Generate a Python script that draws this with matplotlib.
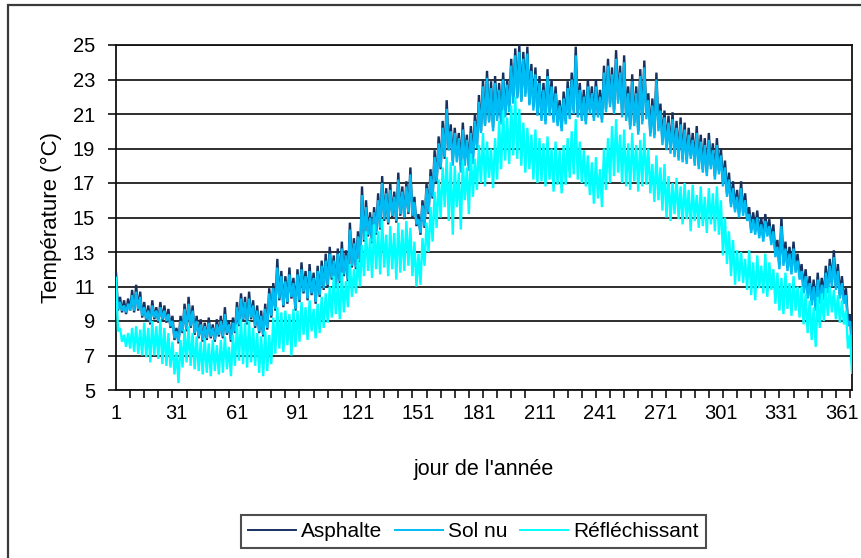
import numpy as np
import matplotlib
matplotlib.use("Agg")
import matplotlib.pyplot as plt
from matplotlib.patches import Rectangle

plt.rcParams['font.family'] = ['Liberation Sans', 'DejaVu Sans']

# Daily values (alternating afternoon high / night low), one entry per day, days 0..365
asphalte = [
    11.8, 9.6, 10.4, 9.5, 10.2, 9.4, 10.3, 9.6, 10.8, 9.5,
    11.1, 9.6, 10.7, 9.2, 10.1, 9.0, 9.9, 8.8, 10.2, 9.1,
    9.8, 8.9, 10.1, 9.0, 9.9, 8.9, 9.7, 8.6, 9.3, 7.9,
    8.6, 7.7, 9.3, 8.3, 10.0, 8.4, 10.4, 8.6, 9.9, 8.2,
    9.3, 8.0, 9.1, 7.8, 8.9, 7.9, 9.2, 8.0, 8.8, 7.8,
    9.1, 8.1, 9.3, 8.0, 9.8, 8.2, 9.0, 7.8, 9.2, 8.3,
    10.1, 8.7, 10.6, 9.0, 10.4, 8.8, 10.7, 9.1, 10.2, 8.6,
    9.9, 8.3, 9.6, 8.1, 10.0, 8.5, 10.9, 9.2, 11.2, 9.6,
    12.6, 10.2, 11.9, 9.8, 11.6, 10.0, 12.1, 10.3, 11.5, 9.6,
    12.0, 10.1, 12.4, 10.6, 11.9, 10.2, 12.3, 10.5, 11.8, 10.0,
    12.2, 10.4, 12.5, 10.8, 12.9, 11.0, 13.3, 11.4, 12.8, 10.9,
    13.2, 11.2, 13.6, 11.6, 13.1, 11.3, 14.7, 12.1, 13.8, 12.0,
    14.2, 12.4, 16.8, 13.6, 16.0, 13.9, 15.3, 13.5, 15.6, 14.0,
    16.4, 14.3, 17.4, 14.8, 16.7, 14.6, 17.0, 15.0, 16.5, 14.7,
    17.6, 15.1, 16.8, 14.9, 17.1, 15.2, 17.9, 15.0, 16.2, 14.5,
    15.2, 14.0, 16.0, 14.4, 17.0, 15.2, 17.8, 16.1, 18.9, 17.0,
    19.7, 17.8, 20.6, 18.4, 21.8, 18.9, 20.4, 18.3, 20.2, 18.6,
    19.9, 18.1, 20.5, 18.4, 19.8, 18.0, 20.3, 18.5, 21.0, 19.2,
    22.1, 20.0, 23.0, 20.4, 23.5, 20.6, 22.9, 20.2, 23.2, 20.8,
    22.8, 20.6, 23.4, 21.0, 23.0, 21.3, 24.2, 21.8, 24.8, 22.0,
    25.0, 21.8, 24.6, 22.2, 24.9, 21.6, 23.9, 21.4, 23.7, 21.0,
    23.2, 20.8, 22.8, 20.6, 23.6, 21.1, 23.0, 20.7, 22.6, 20.5,
    21.8, 20.2, 22.3, 20.6, 22.9, 20.9, 23.4, 21.2, 24.9, 21.0,
    22.8, 20.8, 22.4, 20.6, 23.0, 21.2, 22.6, 20.8, 23.0, 21.0,
    22.4, 20.7, 23.8, 21.3, 24.2, 21.6, 23.7, 21.2, 24.7, 21.8,
    23.8, 21.0, 24.4, 20.8, 22.6, 20.3, 23.3, 20.5, 22.6, 20.0,
    23.6, 20.6, 24.1, 20.9, 22.2, 19.9, 21.9, 19.8, 23.4, 20.2,
    21.6, 19.4, 21.2, 19.1, 20.9, 18.9, 21.1, 18.7, 20.6, 18.5,
    20.8, 18.4, 20.5, 18.3, 20.2, 18.6, 19.9, 18.2, 20.3, 18.0,
    19.8, 17.8, 19.6, 17.6, 19.9, 18.0, 19.3, 17.4, 19.6, 17.7,
    19.0, 17.0, 18.3, 16.4, 17.6, 15.8, 17.1, 15.5, 16.6, 15.2,
    17.1, 15.3, 16.4, 15.0, 15.6, 14.3, 15.3, 14.2, 15.4, 14.0,
    15.0, 13.8, 15.2, 14.1, 14.9, 13.6, 14.6, 12.9, 13.7, 12.2,
    15.0, 12.4, 13.6, 12.1, 13.3, 11.9, 13.6, 12.0, 12.9, 11.6,
    12.3, 10.8, 12.0, 10.5, 11.6, 10.1, 11.4, 9.8, 11.8, 10.2,
    11.5, 10.4, 12.2, 10.8, 12.6, 11.2, 13.1, 11.0, 12.3, 10.5,
    11.6, 10.2, 10.9, 8.9, 9.4, 7.8,
]

sol_nu = [
    11.3, 9.7, 10.1, 9.6, 9.9, 9.5, 10.0, 9.6, 10.5, 9.6,
    10.7, 9.7, 10.4, 9.3, 9.8, 9.1, 9.6, 8.9, 9.9, 9.2,
    9.6, 9.0, 9.8, 9.1, 9.6, 9.0, 9.4, 8.7, 9.0, 8.0,
    8.4, 7.8, 9.0, 8.4, 9.7, 8.5, 10.0, 8.7, 9.6, 8.3,
    9.0, 8.1, 8.8, 7.9, 8.7, 8.0, 8.9, 8.1, 8.6, 7.9,
    8.8, 8.2, 9.0, 8.1, 9.4, 8.3, 8.8, 7.9, 8.9, 8.4,
    9.8, 8.8, 10.3, 9.1, 10.1, 8.9, 10.3, 9.2, 9.9, 8.7,
    9.6, 8.4, 9.3, 8.2, 9.7, 8.6, 10.6, 9.3, 10.9, 9.7,
    12.1, 10.3, 11.6, 9.9, 11.3, 10.1, 11.7, 10.4, 11.2, 9.7,
    11.7, 10.2, 12.0, 10.7, 11.6, 10.3, 11.9, 10.6, 11.5, 10.1,
    11.9, 10.5, 12.2, 10.9, 12.5, 11.1, 12.9, 11.5, 12.5, 11.0,
    12.9, 11.3, 13.2, 11.7, 12.8, 11.4, 14.3, 12.2, 13.5, 12.1,
    13.9, 12.5, 16.3, 13.7, 15.6, 14.0, 15.0, 13.6, 15.3, 14.1,
    16.0, 14.4, 17.0, 14.9, 16.4, 14.7, 16.6, 15.1, 16.2, 14.8,
    17.2, 15.2, 16.5, 15.0, 16.8, 15.3, 17.5, 15.1, 15.9, 14.6,
    14.9, 14.1, 15.7, 14.5, 16.7, 15.3, 17.4, 16.2, 18.5, 17.1,
    19.3, 17.9, 20.2, 18.5, 21.3, 18.9, 20.0, 18.0, 19.9, 18.2,
    19.6, 17.6, 20.1, 18.0, 19.5, 17.7, 19.9, 18.1, 20.6, 19.0,
    21.7, 19.9, 22.6, 20.3, 23.1, 20.5, 22.5, 20.0, 22.8, 20.6,
    22.4, 20.4, 23.0, 20.8, 22.7, 21.1, 23.8, 21.6, 24.4, 21.9,
    24.6, 21.7, 24.2, 22.0, 24.5, 21.5, 23.5, 21.2, 23.3, 20.9,
    22.8, 20.6, 22.4, 20.4, 23.2, 20.9, 22.6, 20.5, 22.2, 20.3,
    21.5, 20.0, 21.9, 20.4, 22.5, 20.7, 23.0, 21.0, 24.4, 20.8,
    22.4, 20.6, 22.0, 20.4, 22.6, 21.0, 22.2, 20.6, 22.6, 20.8,
    22.0, 20.5, 23.4, 21.1, 23.8, 21.4, 23.3, 21.0, 24.2, 21.6,
    23.4, 20.8, 24.0, 20.6, 22.2, 20.1, 22.9, 20.3, 22.2, 19.8,
    23.2, 20.4, 23.7, 20.7, 21.8, 19.7, 21.5, 19.6, 23.0, 20.0,
    21.2, 19.2, 20.8, 18.9, 20.5, 18.7, 20.7, 18.5, 20.2, 18.3,
    20.4, 18.2, 20.1, 18.1, 19.8, 18.4, 19.5, 18.0, 19.9, 17.8,
    19.4, 17.6, 19.2, 17.4, 19.5, 17.8, 18.9, 17.2, 19.2, 17.5,
    18.6, 16.8, 17.9, 16.2, 17.2, 15.6, 16.7, 15.3, 16.2, 15.0,
    16.7, 15.1, 16.0, 14.8, 15.2, 14.1, 14.9, 14.0, 15.0, 13.8,
    14.6, 13.6, 14.8, 13.9, 14.5, 13.4, 14.2, 12.7, 13.3, 12.0,
    14.5, 12.2, 13.2, 11.9, 12.9, 11.7, 13.2, 11.8, 12.5, 11.4,
    11.9, 10.6, 11.6, 10.3, 11.2, 9.9, 11.0, 9.6, 11.4, 10.0,
    11.1, 10.2, 11.8, 10.6, 12.2, 11.0, 12.7, 10.8, 11.9, 10.3,
    11.2, 10.0, 10.5, 8.7, 9.0, 7.4,
]

reflechissant = [
    11.5, 8.4, 8.6, 7.8, 8.2, 7.5, 8.3, 7.4, 8.6, 7.2,
    8.7, 7.1, 8.5, 7.0, 8.9, 6.9, 8.6, 6.6, 9.0, 7.0,
    8.7, 6.8, 9.1, 6.5, 8.6, 6.4, 8.3, 6.3, 7.8, 5.9,
    7.2, 5.4, 7.9, 6.3, 8.5, 6.6, 8.7, 6.4, 8.3, 6.2,
    8.1, 6.1, 7.8, 5.9, 8.0, 6.0, 7.7, 5.8, 7.9, 6.1,
    7.6, 5.9, 7.9, 6.0, 8.1, 6.2, 7.5, 5.8, 8.2, 6.4,
    8.8, 6.7, 9.1, 6.5, 8.9, 6.3, 9.0, 6.6, 8.6, 6.4,
    8.3, 6.0, 8.1, 5.8, 8.4, 6.1, 8.2, 6.5, 9.2, 7.1,
    9.8, 7.4, 9.5, 7.2, 9.6, 7.6, 9.4, 7.0, 9.7, 7.5,
    9.6, 7.8, 10.1, 8.2, 9.8, 7.9, 10.2, 8.4, 9.7, 8.0,
    10.0, 8.3, 10.4, 8.6, 10.6, 8.9, 11.0, 9.2, 11.6, 9.4,
    11.2, 9.1, 11.8, 9.5, 11.3, 9.8, 12.3, 10.4, 12.0, 10.6,
    12.6, 11.0, 13.4, 11.6, 14.2, 11.9, 13.8, 11.5, 14.6, 12.0,
    14.2, 11.7, 14.9, 12.1, 14.0, 11.6, 14.5, 12.0, 14.1, 11.4,
    14.7, 11.8, 14.3, 11.9, 14.8, 12.2, 14.4, 11.6, 13.6, 11.0,
    12.9, 11.1, 13.8, 12.2, 14.7, 13.0, 15.6, 13.6, 16.5, 14.4,
    17.2, 15.0, 17.9, 15.6, 18.5, 14.8, 18.2, 14.0, 18.0, 15.6,
    17.6, 14.3, 18.3, 16.0, 17.9, 15.2, 18.7, 16.2, 18.4, 16.6,
    19.2, 17.0, 19.9, 16.8, 19.4, 17.3, 19.0, 16.7, 19.6, 17.2,
    20.6, 17.8, 21.2, 18.3, 20.8, 18.1, 21.5, 18.6, 22.0, 18.4,
    21.3, 18.0, 20.5, 17.6, 20.2, 17.8, 19.8, 17.2, 20.1, 17.0,
    19.6, 17.1, 19.3, 16.8, 19.7, 17.2, 19.0, 16.5, 19.4, 16.9,
    18.9, 16.4, 19.2, 16.9, 19.6, 17.3, 20.0, 17.5, 20.7, 17.2,
    19.4, 17.0, 18.9, 16.8, 18.6, 16.3, 18.2, 15.8, 18.5, 16.1,
    17.8, 15.6, 19.0, 16.6, 19.6, 17.0, 20.3, 17.4, 20.7, 17.6,
    19.8, 17.0, 20.1, 16.8, 19.3, 16.6, 19.9, 17.1, 19.2, 16.5,
    19.5, 16.8, 19.9, 16.9, 19.0, 16.4, 18.1, 15.9, 18.6, 16.0,
    17.9, 15.4, 18.1, 15.0, 17.4, 14.8, 17.0, 15.2, 17.3, 14.9,
    16.8, 14.6, 17.0, 14.9, 16.6, 14.2, 16.9, 14.8, 16.3, 14.4,
    16.8, 14.5, 16.2, 14.1, 16.7, 14.6, 16.4, 14.2, 16.8, 14.0,
    16.0, 12.8, 15.0, 12.3, 14.2, 11.6, 13.7, 11.1, 13.1, 11.3,
    13.0, 11.2, 12.6, 10.8, 13.1, 10.5, 12.4, 10.2, 12.8, 10.9,
    12.2, 10.6, 12.9, 10.4, 12.4, 10.8, 12.0, 10.0, 11.8, 9.6,
    11.5, 9.4, 11.8, 9.7, 11.2, 9.3, 11.6, 9.6, 11.0, 9.2,
    11.0, 8.8, 10.6, 8.3, 10.2, 7.9, 9.8, 7.5, 10.4, 8.6,
    10.6, 9.0, 10.9, 9.3, 11.0, 9.5, 10.8, 9.1, 10.5, 8.9,
    10.2, 8.8, 9.6, 7.4, 8.2, 6.0,
]

series_names = ["Asphalte", "Sol nu", "Réfléchissant"]
series_colors = ["#17315f", "#00bcf5", "#00ffff"]

x_label_days = list(range(0, 361, 30))
x_labels = [str(d + 1) for d in x_label_days]
y_ticks = list(range(5, 26, 2))

fig = plt.figure(figsize=(8.61, 5.58), dpi=100)
W, H = 861, 558

# outer chart frame
fig.patches.append(Rectangle((7.5 / W, -0.02), 1.05, 1 - 5 / H + 0.02,
                             transform=fig.transFigure, fill=False,
                             edgecolor="#3a3a3a", linewidth=1.6))

ax = fig.add_axes([116 / W, 1 - 390 / H, (852 - 116) / W, (390 - 45) / H])

for name, vals, col in zip(series_names, [asphalte, sol_nu, reflechissant], series_colors):
    ax.plot(np.arange(len(vals)), vals, color=col, linewidth=1.7, label=name,
            solid_joinstyle="miter", zorder=3)

ax.set_xlim(0, 365)
ax.set_ylim(5, 25)

ax.set_yticks(y_ticks)
ax.set_yticklabels([str(v) for v in y_ticks])
ax.yaxis.grid(True, color="#2e2e2e", linewidth=1.4, zorder=0)
ax.set_axisbelow(True)

ax.set_xticks(x_label_days)
ax.set_xticklabels(x_labels)
ax.set_xticks(list(range(0, 366, 7)), minor=True)
ax.tick_params(axis="x", which="major", length=0, pad=10, labelsize=14.5)
ax.tick_params(axis="x", which="minor", length=6, width=1.2, direction="out", color="#111111")
ax.tick_params(axis="y", length=6, width=1.2, direction="out", pad=9, labelsize=14.5, color="#111111")

for sp in ax.spines.values():
    sp.set_color("#111111")
    sp.set_linewidth(1.3)

ax.set_xlabel("jour de l'année", fontsize=15.5, labelpad=26)
ax.set_ylabel("Température (°C)", fontsize=16, labelpad=8)

leg = fig.legend(loc="center", bbox_to_anchor=(473.5 / W, 1 - 531.5 / H), ncol=3,
                 fontsize=15, frameon=True, fancybox=False, handlelength=2.3,
                 handletextpad=0.25, columnspacing=0.6, borderpad=0.35)
leg.get_frame().set_edgecolor("#222222")
leg.get_frame().set_linewidth(1.5)
for line in leg.get_lines():
    line.set_linewidth(1.4)

fig.savefig("out.png", dpi=100)
